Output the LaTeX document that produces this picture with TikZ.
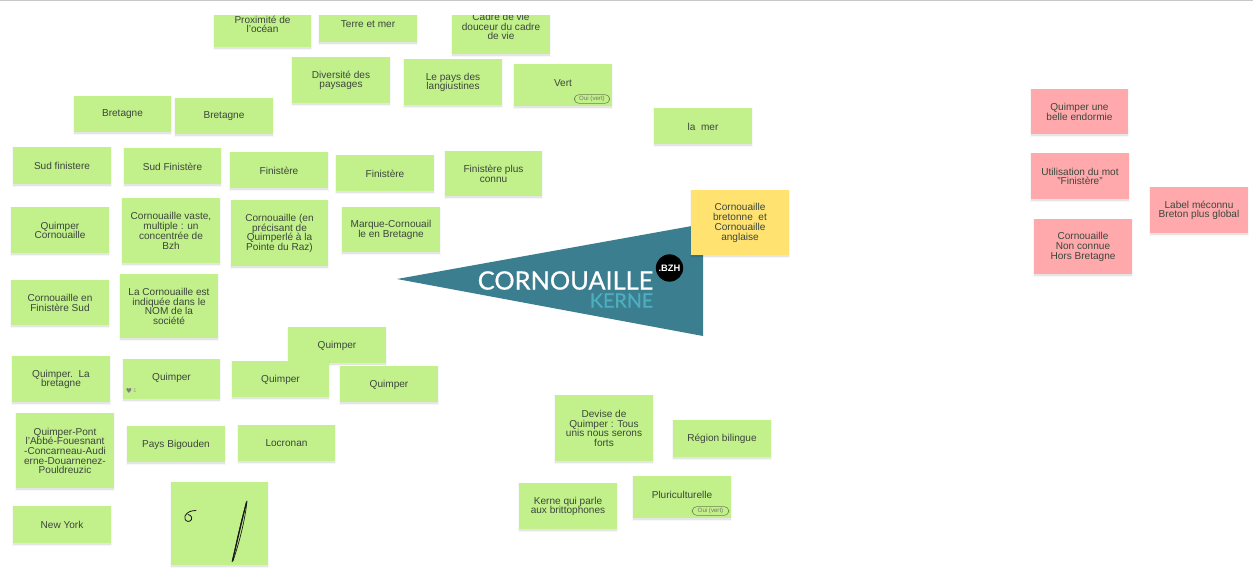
\documentclass[tikz,border=0pt]{standalone}
\usepackage{fontspec}
\setmainfont{Liberation Sans}
\newfontfamily\logofont[FakeBold=0.7]{Lato}
\newfontfamily\symfont{DejaVu Sans}
\definecolor{stickygreen}{HTML}{C2F08B}
\definecolor{stickyyellow}{HTML}{FFE270}
\definecolor{stickyred}{HTML}{FFA9AC}
\definecolor{bannerteal}{HTML}{3B7E90}
\definecolor{logocyan}{HTML}{4FAEBE}
\definecolor{stickytext}{HTML}{3C463C}
\tikzset{
  x=0.75pt,y=-0.75pt,
  sticky/.style={inner sep=0pt,outer sep=0pt,align=center,text=stickytext,
    font=\fontsize{7.55}{7.3}\selectfont},
  green/.style={fill=stickygreen},
  yellownote/.style={fill=stickyyellow},
  rednote/.style={fill=stickyred},
  chip/.style={draw=black!45!stickygreen,line width=0.4pt,rounded corners=3.5pt,inner sep=0pt,
    text=black!55,font=\fontsize{4.6}{5}\selectfont,align=center},
  scribble/.style={draw=black!90,line width=0.7pt,line cap=round,line join=round},
}
\newcommand{\stickynote}[7]{%
  \fill[black,opacity=.03] (#2-1,#3) rectangle (#4+1,#5+3);
  \fill[black,opacity=.07] (#2,#3+1) rectangle (#4,#5+1.5);
  \fill[#7] (#2,#3) rectangle (#4,#5);
  \node[sticky,minimum width={(#4-#2)*0.75pt},minimum height={(#5-#3)*0.75pt}]
    (#1) at ({(#2+#4)/2},{(#3+#5)/2+0.4}) {#6};%
}
\newcommand{\lifted}[1]{\raisebox{4pt}{#1}}
\begin{document}
\begin{tikzpicture}
\useasboundingbox (0,0) rectangle (1253,583);
\fill[white] (0,0) rectangle (1253,583);

% banner
\fill[bannerteal] (397,279) -- (703,224) -- (703,336) -- cycle;
\node[inner sep=0pt,text=white,font=\logofont\fontsize{19}{19}\selectfont,anchor=east] (logomain) at (653.5,280.5) {CORNOUAILLE};
\node[inner sep=0pt,text=logocyan,font=\logofont\fontsize{14.8}{15}\selectfont,anchor=east] (logosub) at (653.5,300.5) {KERNE};
\node[circle,fill=black,minimum size=20.5pt,inner sep=0pt,text=white,font=\bfseries\fontsize{7}{8}\selectfont] (bzh) at (669.5,268) {.BZH};

% green notes, upper area
\stickynote{prox}{214}{1}{311}{47}{Proximité de\\l'océan}{green}
\stickynote{terre}{319}{5}{417}{42}{Terre et mer}{green}
\stickynote{cadre}{452}{-2}{550}{54}{Cadre de vie\\douceur du cadre\\de vie}{green}
\stickynote{divers}{292}{57}{390}{103}{Diversité des\\paysages}{green}
\stickynote{langou}{404}{59}{502}{105}{Le pays des\\langiustines}{green}
\stickynote{vert}{514}{64}{612}{106}{\lifted{Vert}}{green}
\stickynote{breta}{74}{96}{171}{132}{Bretagne}{green}
\stickynote{bretb}{175}{98}{273}{134}{Bretagne}{green}
\stickynote{lamer}{654}{108}{752}{144}{la\ \ mer}{green}
\stickynote{sudf}{13}{147}{111}{184}{Sud finistere}{green}
\stickynote{sudg}{124}{148}{221}{184}{Sud Finistère}{green}
\stickynote{fina}{230}{152}{328}{188}{Finistère}{green}
\stickynote{finb}{336}{155}{434}{191}{Finistère}{green}
\stickynote{finc}{445}{151}{542}{196}{Finistère plus\\connu}{green}
\stickynote{qcorn}{11}{207}{109}{253}{Quimper\\Cornouaille}{green}
\stickynote{cvaste}{122}{198}{220}{263}{Cornouaille vaste,\\multiple : un\\concentrée de\\Bzh}{green}
\stickynote{cpreci}{231}{200}{328}{266}{Cornouaille (en\\précisant de\\Quimperlé à la\\Pointe du Raz)}{green}
\stickynote{marque}{342}{207}{440}{252}{Marque-Cornouail\\le en Bretagne}{green}
\stickynote{cfin}{11}{280}{109}{325}{Cornouaille en\\Finistère Sud}{green}
\stickynote{cnom}{120}{274}{218}{338}{La Cornouaille est\\indiquée dans le\\NOM de la\\société}{green}

% yellow note
\stickynote{cbret}{691}{190}{789}{255}{Cornouaille\\bretonne\ \ et\\Cornouaille\\anglaise}{yellownote}

% green notes, lower area
\stickynote{qa}{288}{327}{386}{363}{Quimper}{green}
\stickynote{qlabr}{12}{356}{110}{402}{Quimper.\ \ La\\bretagne}{green}
\stickynote{qb}{123}{359}{220}{399}{\lifted{Quimper}}{green}
\stickynote{qc}{232}{361}{329}{397}{Quimper}{green}
\stickynote{qd}{340}{366}{438}{402}{Quimper}{green}
\stickynote{qpont}{16}{413}{114}{488}{Quimper-Pont\\l'Abbé-Fouesnant\\-Concarneau-Audi\\erne-Douarnenez-\\Pouldreuzic}{green}
\stickynote{pays}{127}{426}{225}{462}{Pays Bigouden}{green}
\stickynote{locro}{238}{425}{335}{461}{Locronan}{green}
\stickynote{devise}{555}{395}{653}{461}{Devise de\\Quimper : Tous\\unis nous serons\\forts}{green}
\stickynote{region}{673}{420}{771}{457}{Région bilingue}{green}
\stickynote{kerne}{519}{483}{617}{529}{Kerne qui parle\\aux brittophones}{green}
\stickynote{pluri}{633}{476}{731}{518}{\lifted{Pluriculturelle}}{green}
\stickynote{ny}{13}{506}{111}{543}{New York}{green}
\stickynote{draw}{171}{482}{268}{565}{}{green}

% red notes
\stickynote{belle}{1031}{89}{1128}{134}{Quimper une\\belle endormie}{rednote}
\stickynote{motfin}{1031}{153}{1129}{199}{Utilisation du mot\\"Finistère"}{rednote}
\stickynote{label}{1150}{187}{1248}{233}{Label méconnu\\Breton plus global}{rednote}
\stickynote{nonc}{1034}{219}{1132}{274}{Cornouaille\\Non connue\\Hors Bretagne}{rednote}

% tags
\node[chip,minimum width=26.5pt,minimum height=6.6pt] (chipa) at (592,99) {Oui (vert)};
\node[chip,minimum width=27.5pt,minimum height=6.6pt] (chipb) at (710.5,511) {Oui (vert)};
\node[inner sep=0pt,text=black!50,font=\symfont\fontsize{5.2}{5}\selectfont] (heart) at (129,391) {♥};
\node[inner sep=0pt,text=black!40,font=\fontsize{4.2}{5}\selectfont] (heartn) at (135,391) {1};

% handwriting
\draw[scribble,line width=0.6pt] (196,510.5) .. controls (191,510.5) and (187,512) .. (185,516)
  .. controls (184,520) and (187,522.5) .. (190,521) .. controls (193,519.5) and (192,515) .. (188,514.5);
\draw[scribble,line width=0.5pt,line cap=butt] (232,562) .. controls (236,545) and (241,520) .. (247,501)
  .. controls (245,520) and (240,540) .. (233,561);
\draw[scribble,line width=0.9pt] (232.5,561) -- (239,533) -- (246.5,502);

% top of the frame
\fill[white] (0,0) rectangle (1253,15);
\fill[black!22] (0,0) rectangle (1253,1.3);
\end{tikzpicture}
\end{document}
